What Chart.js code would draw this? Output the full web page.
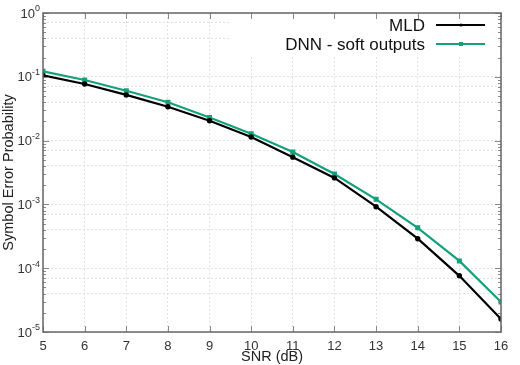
<!DOCTYPE html>
<html>
<head>
<meta charset="utf-8">
<script src="https://cdn.jsdelivr.net/npm/chart.js@4"></script>
<style>
html, body { margin: 0; padding: 0; background: #fff; }
</style>
</head>
<body>
<canvas id="ser-chart" width="520" height="365"></canvas>
<script>
// SNR in dB and symbol error probability
var snr = [5, 6, 7, 8, 9, 10, 11, 12, 13, 14, 15, 16];
var mld = [0.105, 0.077, 0.052, 0.034, 0.0205, 0.0114, 0.0055, 0.0026, 0.00092, 0.00029, 0.000076, 0.000016];
var dnn = [0.122, 0.089, 0.0605, 0.040, 0.023, 0.0128, 0.0066, 0.0030, 0.0012, 0.00043, 0.00013, 0.0000295];
var seriesNames = ['MLD', 'DNN - soft outputs'];
var yExponents = [0, -1, -2, -3, -4, -5];

var FONT = '"Liberation Sans", Arial, sans-serif';
var GREEN = '#13a07a';

function toPoints(ys) {
    var pts = [];
    for (var i = 0; i < snr.length; i++) {
        pts.push({ x: snr[i], y: ys[i] });
    }
    return pts;
}

var gnuplotLook = {
    id: 'gnuplotLook',
    beforeDatasetsDraw: function (chart) {
        // white box behind the key
        var ctx = chart.ctx, a = chart.chartArea;
        ctx.save();
        ctx.fillStyle = '#fff';
        ctx.fillRect(231, a.top + 1, a.right - 232, 43);
        ctx.restore();
    },
    afterDraw: function (chart) {
        var ctx = chart.ctx, a = chart.chartArea;
        var xs = chart.scales.x, ys = chart.scales.y;
        ctx.save();

        // tick marks on all four sides
        ctx.strokeStyle = '#888';
        ctx.lineWidth = 1;
        ctx.beginPath();
        for (var v = 5; v <= 16; v++) {
            var px = Math.round(xs.getPixelForValue(v)) + 0.5;
            ctx.moveTo(px, a.bottom); ctx.lineTo(px, a.bottom - 6);
            ctx.moveTo(px, a.top); ctx.lineTo(px, a.top + 6);
        }
        for (var e = -5; e <= 0; e++) {
            for (var m = 1; m <= 9; m++) {
                if (e === 0 && m > 1) break;
                var py = Math.round(ys.getPixelForValue(m * Math.pow(10, e))) + 0.5;
                var len = m === 1 ? 6 : 3;
                ctx.moveTo(a.left, py); ctx.lineTo(a.left + len, py);
                ctx.moveTo(a.right, py); ctx.lineTo(a.right - len, py);
            }
        }
        ctx.stroke();

        // frame
        ctx.strokeStyle = '#666';
        ctx.lineWidth = 1.5;
        ctx.strokeRect(a.left, a.top, a.right - a.left, a.bottom - a.top);

        // y tick labels 10^n
        ctx.fillStyle = '#333';
        ctx.textBaseline = 'middle';
        for (var k = 0; k < yExponents.length; k++) {
            var ex = yExponents[k];
            var y = ys.getPixelForValue(Math.pow(10, ex));
            ctx.font = '9px ' + FONT;
            ctx.textAlign = 'right';
            var expText = String(ex);
            var expW = ctx.measureText(expText).width;
            ctx.fillText(expText, 40, y - 4);
            ctx.font = '13px ' + FONT;
            ctx.fillText('10', 40 - expW, y + 1);
        }

        // axis titles
        ctx.fillStyle = '#222';
        ctx.font = '14.5px ' + FONT;
        ctx.textAlign = 'center';
        ctx.fillText('SNR (dB)', (a.left + a.right) / 2, 357);
        ctx.translate(9, (a.top + a.bottom) / 2);
        ctx.rotate(-Math.PI / 2);
        ctx.fillText('Symbol Error Probability', 0, 0);
        ctx.restore();

        // key
        ctx.save();
        ctx.font = '17px ' + FONT;
        ctx.textAlign = 'right';
        ctx.textBaseline = 'middle';
        var colors = ['#000', GREEN];
        var rows = [25, 44];
        for (var r = 0; r < seriesNames.length; r++) {
            ctx.fillStyle = '#111';
            ctx.fillText(seriesNames[r], 425, rows[r] + 1);
            ctx.strokeStyle = colors[r];
            ctx.lineWidth = 2.2;
            ctx.beginPath();
            ctx.moveTo(436, rows[r]); ctx.lineTo(485, rows[r]);
            ctx.stroke();
            ctx.fillStyle = colors[r];
            if (r === 0) {
                ctx.beginPath(); ctx.arc(461, rows[r], 1.6, 0, Math.PI * 2); ctx.fill();
            } else {
                ctx.fillRect(459, rows[r] - 2, 4, 4);
            }
        }
        ctx.restore();
    }
};

var ctx = document.getElementById('ser-chart').getContext('2d');
var chart = new Chart(ctx, {
    type: 'line',
    data: {
        datasets: [{
            label: seriesNames[0],
            data: toPoints(mld),
            borderColor: '#000',
            backgroundColor: '#000',
            borderWidth: 2.2,
            pointStyle: 'circle',
            pointRadius: 1.6,
            tension: 0
        }, {
            label: seriesNames[1],
            data: toPoints(dnn),
            borderColor: GREEN,
            backgroundColor: GREEN,
            borderWidth: 2.2,
            pointStyle: 'rect',
            pointRadius: 2,
            tension: 0
        }]
    },
    options: {
        responsive: false,
        animation: false,
        layout: { padding: { top: 13, right: 19, left: 0, bottom: 0 } },
        plugins: {
            legend: { display: false },
            tooltip: { enabled: false }
        },
        scales: {
            x: {
                type: 'linear',
                min: 5,
                max: 16,
                ticks: { stepSize: 1, color: '#333', font: { size: 13, family: FONT }, padding: 7 },
                grid: { color: '#e2e2e2', lineWidth: 1, drawTicks: false },
                border: { display: false, dash: [2, 2] },
                afterFit: function (scale) { scale.height = 33; }
            },
            y: {
                type: 'logarithmic',
                min: 1e-5,
                max: 1,
                afterBuildTicks: function (scale) {
                    var t = [];
                    for (var e = -5; e <= 0; e++) {
                        for (var m = 1; m <= 9; m++) {
                            if (e === 0 && m > 1) break;
                            t.push({ value: m * Math.pow(10, e) });
                        }
                    }
                    scale.ticks = t;
                },
                ticks: { callback: function () { return ''; } },
                grid: { color: '#e2e2e2', lineWidth: 1, drawTicks: false },
                border: { display: false, dash: [2, 2] },
                afterFit: function (scale) { scale.width = 43; }
            }
        }
    },
    plugins: [gnuplotLook]
});
</script>
</body>
</html>
